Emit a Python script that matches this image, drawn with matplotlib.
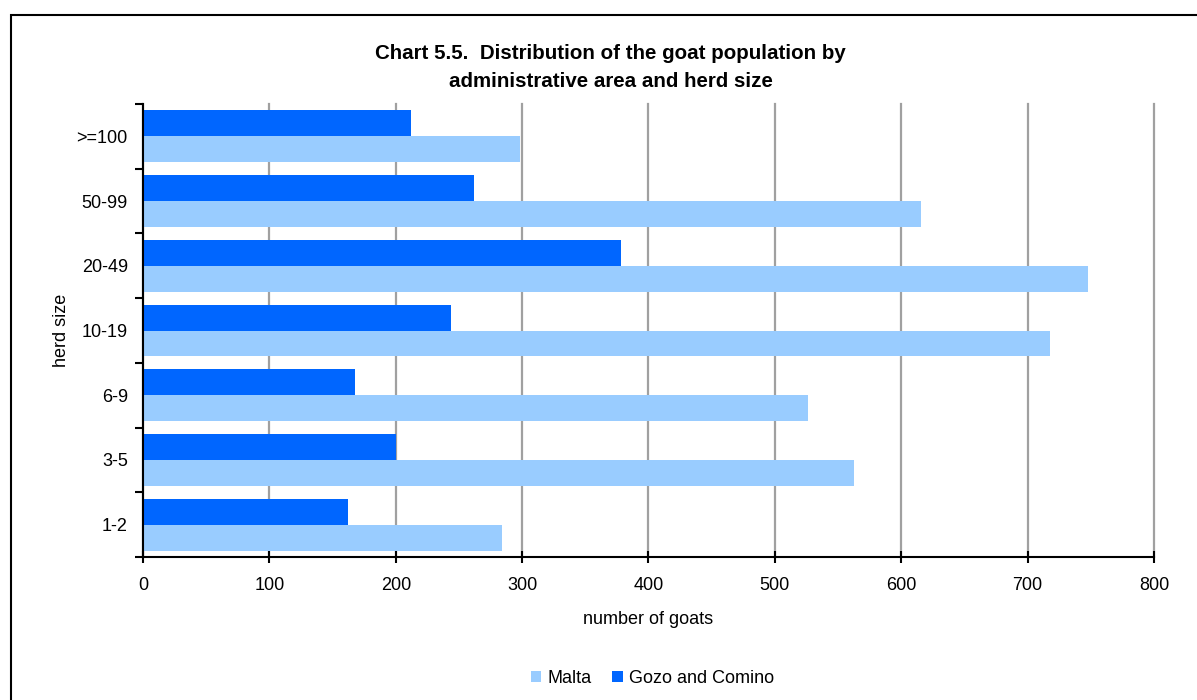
import numpy as np
import matplotlib.pyplot as plt
import matplotlib.patches as patches
from matplotlib.ticker import FixedLocator

plt.rcParams['font.family'] = ['Liberation Sans', 'DejaVu Sans']

# Data
herd_sizes = ['1-2', '3-5', '6-9', '10-19', '20-49', '50-99', '>=100']
malta = [284, 563, 526, 718, 748, 616, 298]
gozo = [162, 200, 168, 244, 378, 262, 212]

fig = plt.figure(figsize=(11.97, 7.0), dpi=100)
ax = fig.add_axes([0.1195, 0.2043, 0.8445, 0.6471])

y = np.arange(len(herd_sizes))
h = 0.4
ax.barh(y - h / 2, malta, height=h, color='#99CCFF', label='Malta', zorder=3)
ax.barh(y + h / 2, gozo, height=h, color='#0066FF', label='Gozo and Comino', zorder=3)

ax.set_xlim(0, 800)
ax.set_ylim(-0.5, len(herd_sizes) - 0.5)
ax.set_xticks(np.arange(0, 801, 100))
ax.set_yticks(y)
ax.set_yticklabels(herd_sizes)
ax.yaxis.set_minor_locator(FixedLocator(np.arange(-0.5, len(herd_sizes), 1)))
ax.tick_params(axis='y', which='major', length=0, pad=11, labelsize=13)
ax.tick_params(axis='y', which='minor', length=6, width=1.5, direction='out')
ax.tick_params(axis='x', which='major', length=9, width=1.5, direction='inout',
               pad=10, labelsize=13)

ax.grid(axis='x', color='#A0A0A0', linewidth=1.6, zorder=0)
for gl in ax.get_xgridlines():
    gl.set_clip_on(False)
for s in ['top', 'right']:
    ax.spines[s].set_visible(False)
for s in ['left', 'bottom']:
    ax.spines[s].set_linewidth(1.5)
    ax.spines[s].set_zorder(4)

ax.set_xlabel('number of goats', fontsize=13, labelpad=12)
ax.set_ylabel('herd size', fontsize=13, labelpad=5)

fig.text(0.51, 0.904, 'Chart 5.5.  Distribution of the goat population by\nadministrative area and herd size',
         ha='center', va='center', fontsize=14.8, fontweight='bold', linespacing=1.6)

handles, labels = ax.get_legend_handles_labels()
fig.legend(handles, labels, loc='center', bbox_to_anchor=(0.545, 0.031), ncol=2,
           frameon=False, fontsize=13, handlelength=0.6, handleheight=0.6,
           handletextpad=0.35, columnspacing=1.1)

# chart frame
fig.patches.append(patches.Rectangle((11 / 1197, -0.1), 1.2, 0.1 + 1 - 15 / 700,
                                     transform=fig.transFigure, fill=False,
                                     edgecolor='black', linewidth=1.5))

fig.savefig('out.png', dpi=100)
